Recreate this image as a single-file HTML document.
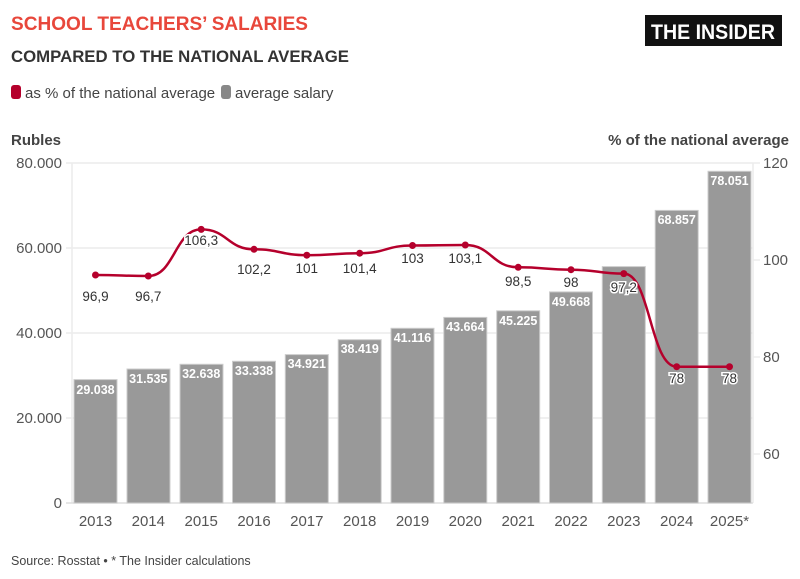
<!DOCTYPE html>
<html><head><meta charset="utf-8"><style>
html,body{margin:0;padding:0;background:#fff;width:800px;height:579px;overflow:hidden}
svg{display:block;font-family:"Liberation Sans",sans-serif}
.t{font-size:15px;fill:#555}
.bl{font-size:12.5px;font-weight:bold;fill:#fff;stroke:#999;stroke-width:3;paint-order:stroke;text-anchor:middle}
.ll{font-size:13.5px;fill:#333;stroke:#fff;stroke-width:3;paint-order:stroke;text-anchor:middle}
</style></head><body>
<svg width="800" height="579" viewBox="0 0 800 579">
<text x="11" y="30" font-size="19.5" font-weight="bold" fill="#e8473b" textLength="297" lengthAdjust="spacingAndGlyphs">SCHOOL TEACHERS’ SALARIES</text>
<text x="11" y="62" font-size="17" font-weight="bold" fill="#333" textLength="338" lengthAdjust="spacingAndGlyphs">COMPARED TO THE NATIONAL AVERAGE</text>
<rect x="645" y="15" width="137" height="31" fill="#111"/>
<text x="713" y="39" font-size="21" font-weight="bold" fill="#fff" text-anchor="middle" textLength="124" lengthAdjust="spacingAndGlyphs">THE INSIDER</text>
<rect x="11" y="85" width="10" height="14" rx="3" fill="#b5002c"/>
<text x="25" y="98" font-size="15" fill="#444">as % of the national average</text>
<rect x="221" y="85" width="10" height="14" rx="3" fill="#888"/>
<text x="235" y="98" font-size="15" fill="#444">average salary</text>
<text x="11" y="145" font-size="15" font-weight="bold" fill="#444">Rubles</text>
<text x="789" y="145" font-size="15" font-weight="bold" fill="#444" text-anchor="end">% of the national average</text>
<g stroke="#ececec" stroke-width="1.5">
<line x1="66" y1="163" x2="753" y2="163"/><line x1="66" y1="248" x2="753" y2="248"/>
<line x1="66" y1="333" x2="753" y2="333"/><line x1="66" y1="418" x2="753" y2="418"/>
<line x1="753" y1="260" x2="760" y2="260"/><line x1="753" y1="357" x2="760" y2="357"/><line x1="753" y1="454" x2="760" y2="454"/><line x1="753" y1="163" x2="760" y2="163"/>
<line x1="72" y1="163" x2="72" y2="503"/><line x1="753" y1="163" x2="753" y2="503"/>
</g>
<line x1="66" y1="503" x2="753" y2="503" stroke="#ddd" stroke-width="1.5"/>
<g class="t" text-anchor="end">
<text x="62" y="168">80.000</text><text x="62" y="253">60.000</text><text x="62" y="338">40.000</text><text x="62" y="423">20.000</text><text x="62" y="508">0</text>
</g>
<g class="t"><text x="763" y="168">120</text><text x="763" y="265">100</text><text x="763" y="362">80</text><text x="763" y="459">60</text></g>
<g fill="#999" stroke="#ccc" stroke-width="1">
<rect x="74" y="379.6" width="43" height="123.4"/>
<rect x="127" y="369" width="43" height="134"/>
<rect x="180" y="364.3" width="43" height="138.7"/>
<rect x="232.5" y="361.3" width="43" height="141.7"/>
<rect x="285.3" y="354.6" width="43" height="148.4"/>
<rect x="338.2" y="339.7" width="43" height="163.3"/>
<rect x="391" y="328.3" width="43" height="174.7"/>
<rect x="443.8" y="317.4" width="43" height="185.6"/>
<rect x="496.7" y="310.8" width="43" height="192.2"/>
<rect x="549.5" y="291.9" width="43" height="211.1"/>
<rect x="602.3" y="266.6" width="43" height="236.4"/>
<rect x="655.2" y="210.4" width="43" height="292.6"/>
<rect x="708" y="171.3" width="43" height="331.7"/>
</g>
<g class="bl">
<text x="95.5" y="394">29.038</text><text x="148.3" y="383">31.535</text><text x="201.2" y="378">32.638</text>
<text x="254" y="375">33.338</text><text x="306.8" y="368">34.921</text><text x="359.7" y="353">38.419</text>
<text x="412.5" y="342">41.116</text><text x="465.3" y="331">43.664</text><text x="518.2" y="325">45.225</text>
<text x="571" y="306">49.668</text><text x="676.7" y="224">68.857</text><text x="729.5" y="185">78.051</text>
</g>
<g class="t" text-anchor="middle" font-size="16" fill="#444">
<text x="95.5" y="526">2013</text><text x="148.3" y="526">2014</text><text x="201.2" y="526">2015</text><text x="254" y="526">2016</text><text x="306.8" y="526">2017</text><text x="359.7" y="526">2018</text><text x="412.5" y="526">2019</text><text x="465.3" y="526">2020</text><text x="518.2" y="526">2021</text><text x="571" y="526">2022</text><text x="623.8" y="526">2023</text><text x="676.7" y="526">2024</text><text x="729.5" y="526">2025*</text>
</g>
<path fill="none" stroke="#b5002c" stroke-width="2.5" d="M95.5,275 C121.9,275 121.9,276 148.3,276 C174.7,276 174.7,229.4 201.2,229.4 C227.6,229.4 227.6,249.3 254,249.3 C280.4,249.3 280.4,255.2 306.8,255.2 C333.2,255.2 333.2,253.2 359.7,253.2 C386.1,253.2 386.1,245.5 412.5,245.5 C438.9,245.5 438.9,245 465.3,245 C491.7,245 491.7,267.3 518.2,267.3 C544.6,267.3 544.6,269.7 571,269.7 C597.4,269.7 597.4,273.6 623.8,273.6 C650.2,273.6 650.2,366.7 676.7,366.7 L729.5,366.7"/>
<g fill="#b5002c">
<circle cx="95.5" cy="275" r="3.5"/><circle cx="148.3" cy="276" r="3.5"/><circle cx="201.2" cy="229.4" r="3.5"/><circle cx="254" cy="249.3" r="3.5"/><circle cx="306.8" cy="255.2" r="3.5"/><circle cx="359.7" cy="253.2" r="3.5"/><circle cx="412.5" cy="245.5" r="3.5"/><circle cx="465.3" cy="245" r="3.5"/><circle cx="518.2" cy="267.3" r="3.5"/><circle cx="571" cy="269.7" r="3.5"/><circle cx="623.8" cy="273.6" r="3.5"/><circle cx="676.7" cy="366.7" r="3.5"/><circle cx="729.5" cy="366.7" r="3.5"/>
</g>
<g class="ll">
<text x="95.5" y="301">96,9</text><text x="148.3" y="301">96,7</text><text x="201.2" y="245">106,3</text><text x="254" y="274">102,2</text><text x="306.8" y="273">101</text><text x="359.7" y="273">101,4</text><text x="412.5" y="263">103</text><text x="465.3" y="263">103,1</text><text x="518.2" y="286">98,5</text><text x="571" y="287">98</text><text x="623.8" y="292">97,2</text><text x="676.7" y="383">78</text><text x="729.5" y="383">78</text>
</g>
<text x="11" y="565" font-size="12.5" fill="#444">Source: Rosstat • * The Insider calculations</text>
</svg>
</body></html>
